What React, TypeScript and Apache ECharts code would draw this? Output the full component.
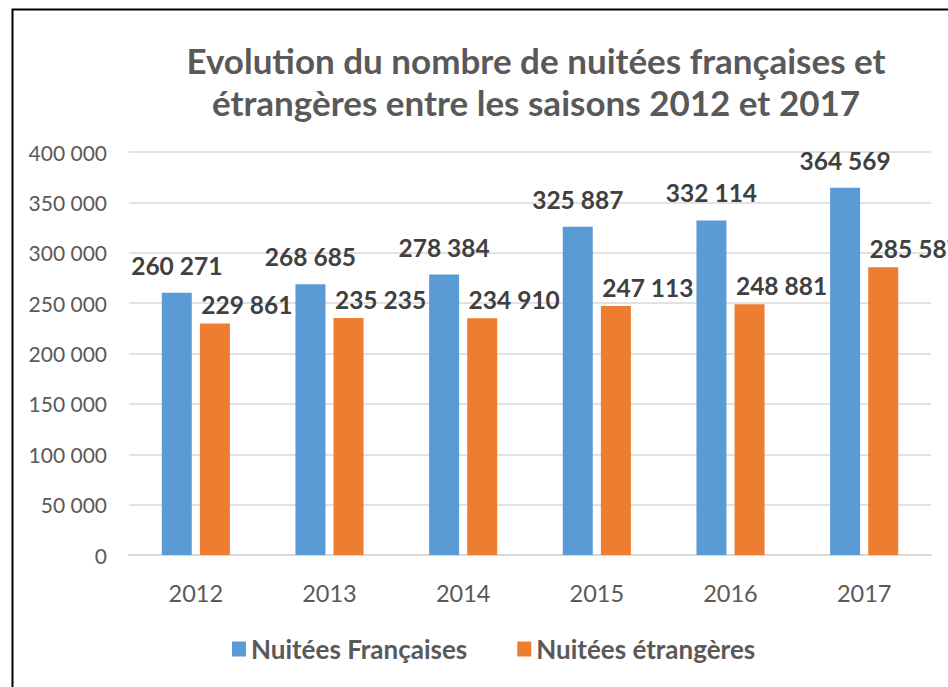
import React, { useEffect, useRef } from "react";
import * as echarts from "echarts";

const categories = ["2012", "2013", "2014", "2015", "2016", "2017"];
const francaises = [260271, 268685, 278384, 325887, 332114, 364569];
const etrangeres = [229861, 235235, 234910, 247113, 248881, 285587];
const seriesNames = ["Nuitées Françaises", "Nuitées étrangères"];
const titleText = "Evolution du nombre de nuitées françaises et\nétrangères entre les saisons 2012 et 2017";

const FONT = "Lato";
const fmt = (v: number) => String(v).replace(/\B(?=(\d{3})+(?!\d))/g, " ");

export default function App() {
  const ref = useRef<HTMLDivElement>(null);
  useEffect(() => {
    if (!ref.current) return;
    const chart = echarts.init(ref.current, undefined, { renderer: "svg" });
    const labelBase = {
      show: true,
      position: "top" as const,
      fontFamily: FONT,
      fontSize: 24.5,
      fontWeight: "bold" as const,
      color: "#404040",
      formatter: (p: any) => fmt(p.value),
    };
    chart.setOption({
      animation: false,
      backgroundColor: "#ffffff",
      title: {
        text: titleText,
        left: 536,
        top: 39,
        padding: 0,
        textAlign: "center",
        textStyle: {
          fontFamily: FONT,
          fontSize: 35,
          fontWeight: "bold",
          color: "#595959",
          lineHeight: 42,
        },
      },
      legend: {
        data: seriesNames,
        left: 232,
        top: 636,
        padding: 0,
        icon: "rect",
        itemWidth: 14,
        itemHeight: 15,
        itemGap: 50,
        textStyle: { fontFamily: FONT, fontSize: 26, fontWeight: "bold", color: "#595959" },
      },
      grid: { left: 129, right: 17, top: 152, bottom: 132, containLabel: false },
      xAxis: {
        type: "category",
        data: categories,
        axisLine: { lineStyle: { color: "#d9d9d9", width: 2 } },
        axisTick: { show: false },
        axisLabel: { fontFamily: FONT, fontSize: 23.5, color: "#595959", margin: 26 },
      },
      yAxis: {
        type: "value",
        min: 0,
        max: 400000,
        interval: 50000,
        axisLine: { show: false },
        axisTick: { show: false },
        splitLine: { lineStyle: { color: "#d9d9d9", width: 1.5 } },
        axisLabel: {
          fontFamily: FONT,
          fontSize: 21,
          color: "#595959",
          margin: 22,
          formatter: (v: number) => fmt(v),
        },
      },
      series: [
        {
          name: seriesNames[0],
          type: "bar",
          data: francaises,
          barWidth: 30,
          barGap: "27%",
          itemStyle: { color: "#5b9bd5" },
          label: { ...labelBase, distance: 15 },
        },
        {
          name: seriesNames[1],
          type: "bar",
          data: etrangeres,
          barWidth: 30,
          itemStyle: { color: "#ed7d31" },
          label: { ...labelBase, distance: 6, offset: [32, 0] },
        },
      ],
      graphic: [
        {
          type: "rect",
          left: 10,
          top: 7,
          shape: { width: 960, height: 700 },
          style: { fill: "none", stroke: "#000000", lineWidth: 2 },
          silent: true,
        },
      ],
    });
    return () => chart.dispose();
  }, []);
  return <div ref={ref} style={{ position: "fixed", left: 0, top: 0, width: 948, height: 687 }} />;
}
